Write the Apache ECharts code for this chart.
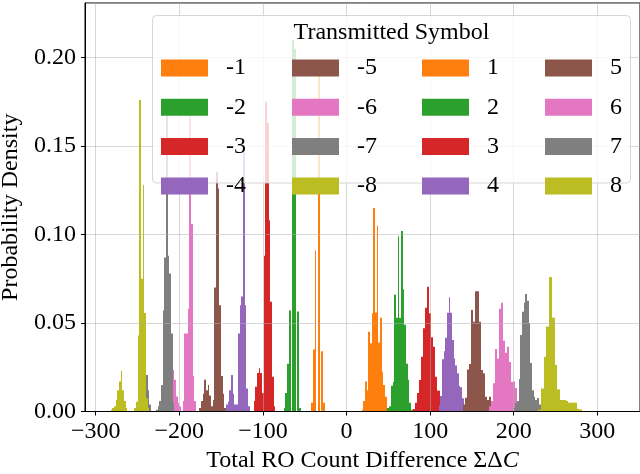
<!DOCTYPE html>
<html>
<head>
<meta charset="utf-8">
<script src="https://cdn.jsdelivr.net/npm/echarts@6/dist/echarts.min.js"></script>
<style>
  html, body { margin: 0; padding: 0; background: #fff; }
  #chart { width: 640px; height: 474px; }
</style>
</head>
<body>
<div id="chart"></div>
<script>
// transmitted symbols, in plotting / legend order
var symbols = [ '-1', '-2', '-3', '-4', '-5', '-6', '-7', '-8', '1', '2', '3', '4', '5', '6', '7', '8' ] ;
// left edge of the first bin and bin width (in ΣΔC units) for each symbol
var binStart = [ -42, -75, -111, -144, -176, -208, -240, -282, 18, 47, 80, 110, 139.7, 170.4, 200, 229 ] ;
var binWidth = [ 2, 2, 2, 2, 2, 2, 2, 2, 2, 2, 2.4, 2, 2.4, 2.4, 2, 3.3 ] ;

// probability density per bin
var densN1 = [ 0.005, 0.035, 0.091, 0, 0.191, 0, 0.034, 0.005 ] ;
var densN2 = [ 0.002, 0.0104, 0.027, 0.057, 0, 0.21, 0.205, 0, 0.0565, 0.002 ] ;
var densN3 = [ 0.006, 0.014, 0.0217, 0.0245, 0.0217, 0.0104, 0.088, 0.175, 0.163, 0.108, 0.062, 0.0197, 0.003 ] ;
var densN4 = [ 0.004, 0.0055, 0.012, 0.0206, 0.01, 0.004, 0.004, 0.044, 0.06, 0.065, 0.15, 0.06, 0.013, 0.003 ] ;
var densN5 = [ 0.002, 0.006, 0.01, 0.018, 0.012, 0.015, 0.009, 0.003, 0.0065, 0.07, 0.1355, 0.126, 0.06, 0.02, 0.01, 0.002 ] ;
var densN6 = [ 0.0235, 0.018, 0.0085, 0.005, 0.003, 0, 0.006, 0.044, 0.044, 0.058, 0.17, 0.106, 0.02, 0.006 ] ;
var densN7 = [ 0.0206, 0.012, 0.004, 0, 0, 0, 0.001, 0.003, 0.006, 0.015, 0.057, 0.087, 0.172, 0.088, 0.078, 0.044, 0.005 ] ;
var densN8 = [ 0.001, 0.002, 0.003, 0.0065, 0.012, 0.017, 0.023, 0.012, 0.006, 0.002, 0, 0, 0, 0, 0.002, 0.0055, 0.043, 0.176, 0.075, 0.128, 0.0556, 0.0076, 0.002 ] ;
var densP1 = [ 0.001, 0.006, 0.017, 0.012, 0.045, 0.0386, 0.0555, 0.115, 0.056, 0.105, 0.039, 0.053, 0.0225, 0.015, 0.0084, 0.001 ] ;
var densP2 = [ 0.0005, 0.002, 0.003, 0.0146, 0.0167, 0.066, 0.053, 0.099, 0.053, 0.102, 0.069, 0.049, 0.027, 0.018, 0.005, 0.001 ] ;
var densP3 = [ 0.0014, 0.005, 0.0104, 0.0178, 0.031, 0.047, 0.0586, 0.0705, 0.0555, 0.042, 0.0366, 0.0197, 0.0118, 0.004 ] ;
var densP4 = [ 0.0037, 0.0088, 0.0295, 0.034, 0.0417, 0.0558, 0.0645, 0.0558, 0.0404, 0.03, 0.026, 0.0216, 0.0144, 0.0137, 0.0075 ] ;
var densP5 = [ 0.004, 0.0078, 0.0238, 0.0268, 0.0573, 0.0507, 0.068, 0.068, 0.0507, 0.0234, 0.0216, 0.0084, 0.0065, 0.0084 ] ;
var densP6 = [ 0.003, 0.006, 0.016, 0.0353, 0.03, 0.058, 0.0615, 0.04, 0.0332, 0.0366, 0.028, 0.0168, 0.017, 0.0133, 0.004 ] ;
var densP7 = [ 0.002, 0.005, 0.006, 0.0184, 0.0432, 0.0564, 0.0615, 0.0664, 0.0626, 0.05, 0.0274, 0.012, 0.0084, 0.0065, 0.0076, 0.004 ] ;
var densP8 = [ 0.001, 0.013, 0.031, 0.048, 0.076, 0.053, 0.0263, 0.0125, 0.0065, 0.0065, 0.006, 0.005, 0.005, 0.005, 0.0015, 0.0012 ] ;

var densities = [ densN1, densN2, densN3, densN4, densN5, densN6, densN7, densN8,
                  densP1, densP2, densP3, densP4, densP5, densP6, densP7, densP8 ] ;

// x ticks
var xTicks = [ -300, -200, -100, 0, 100, 200, 300 ] ;

// tab10 C1..C8, same colour for +n and -n
var palette = [ '#ff7f0e', '#2ca02c', '#d62728', '#9467bd', '#8c564b', '#e377c2', '#7f7f7f', '#bcbd22' ] ;
var font = '"Liberation Serif", "DejaVu Serif", serif' ;
var fs = 24 ;
var minus = function( s ){ return String( s ).replace( '-', '\u2212' ) ; } ;

//直方图柱子，边缘对齐到像素避免缝隙
function histRender( params, api )
{
   var p0 = api.coord( [ api.value( 0 ), api.value( 2 ) ] ) ;
   var p1 = api.coord( [ api.value( 1 ), 0 ] ) ;
   var x0 = Math.round( p0[0] ) ;
   var x1 = Math.round( p1[0] ) ;
   if( x1 - x0 < 1 ) x1 = x0 + 1 ;
   return {
      type: 'rect',
      shape: { x: x0, y: p0[1], width: x1 - x0, height: p1[1] - p0[1] },
      style: { fill: api.visual( 'color' ) }
   } ;
}

var series = [] ;
for( var s = 0; s < symbols.length; ++s )
{
   var rows = [] ;
   var d = densities[s] ;
   for( var i = 0; i < d.length; ++i )
   {
      if( d[i] <= 0 ) continue ;
      var x0 = binStart[s] + i * binWidth[s] ;
      rows.push( [ x0, x0 + binWidth[s], d[i] ] ) ;
   }
   series.push( {
      type: 'custom',
      name: symbols[s],
      renderItem: histRender,
      itemStyle: { color: palette[ s % 8 ] },
      encode: { x: [ 0, 1 ], y: 2 },
      data: rows,
      silent: true,
      z: 2
   } ) ;
}

// legend: 4 columns filled top to bottom
var legendCols = [ symbols.slice( 0, 4 ), symbols.slice( 4, 8 ), symbols.slice( 8, 12 ), symbols.slice( 12, 16 ) ] ;
var legendLeft = [ 161, 292, 422, 545 ] ;
var legends = [] ;
for( var c = 0; c < legendCols.length; ++c )
{
   legends.push( {
      data: legendCols[c],
      orient: 'vertical',
      left: legendLeft[c],
      top: 56,
      padding: 0,
      icon: 'rect',
      itemWidth: 47,
      itemHeight: 17,
      itemGap: 15.3,
      selectedMode: false,
      z: 5,
      textStyle: { fontFamily: font, fontSize: fs, color: '#000', lineHeight: 17, padding: [ 0, 0, 0, 13 ] }
   } ) ;
}

var chart = echarts.init( document.getElementById( 'chart' ) ) ;
chart.setOption( {
   animation: false,
   backgroundColor: '#fff',
   grid: {
      left: 85, right: 0, top: 3, bottom: 62.5,
      outerBoundsMode: 'none', containLabel: false,
      show: true, borderColor: '#000', borderWidth: 1, backgroundColor: 'transparent', z: 3
   },
   legend: legends,
   xAxis: {
      type: 'value',
      min: -312.8,
      max: 351,
      minInterval: 100,
      maxInterval: 100,
      z: 3,
      name: '{t|Total RO Count Difference \u03A3\u0394}{i|C}',
      nameLocation: 'middle',
      nameGap: 37,
      nameTextStyle: {
         rich: {
            t: { fontFamily: font, fontSize: fs, color: '#000' },
            i: { fontFamily: font, fontSize: fs, color: '#000', fontStyle: 'italic' }
         }
      },
      axisLine: { show: true, onZero: false, lineStyle: { color: '#000', width: 1 } },
      axisTick: { show: true, length: 4, lineStyle: { color: '#000' } },
      axisLabel: {
         margin: 8, fontFamily: font, fontSize: fs, color: '#000',
         showMinLabel: false, showMaxLabel: false,
         formatter: function( v ){ return xTicks.indexOf( v ) >= 0 ? minus( v ) : '' ; }
      },
      splitLine: { show: true, lineStyle: { color: 'rgba(176,176,176,0.5)', width: 1 } }
   },
   yAxis: {
      type: 'value',
      min: 0,
      max: 0.2308,
      interval: 0.05,
      z: 3,
      name: 'Probability Density',
      nameLocation: 'middle',
      nameGap: 56,
      nameTextStyle: { fontFamily: font, fontSize: fs, color: '#000' },
      axisLine: { show: true, onZero: false, lineStyle: { color: '#000', width: 1 } },
      axisTick: { show: true, length: 4, lineStyle: { color: '#000' } },
      axisLabel: {
         margin: 9, fontFamily: font, fontSize: fs, color: '#000',
         showMaxLabel: false,
         formatter: function( v ){ return v.toFixed( 2 ) ; }
      },
      splitLine: { show: true, lineStyle: { color: 'rgba(176,176,176,0.5)', width: 1 } }
   },
   graphic: {
      elements: [
         {
            type: 'rect', z: 4, silent: true,
            shape: { x: 152.5, y: 15.5, width: 478, height: 167.5, r: 4 },
            style: { fill: 'rgba(255,255,255,0.8)', stroke: 'rgba(204,204,204,0.8)', lineWidth: 1 }
         },
         {
            type: 'text', z: 6, silent: true,
            x: 391.5, y: 33,
            style: { text: 'Transmitted Symbol', fontFamily: font, fontSize: fs, fill: '#000', textAlign: 'center', textVerticalAlign: 'middle' }
         }
      ]
   },
   series: series
} ) ;
</script>
</body>
</html>
